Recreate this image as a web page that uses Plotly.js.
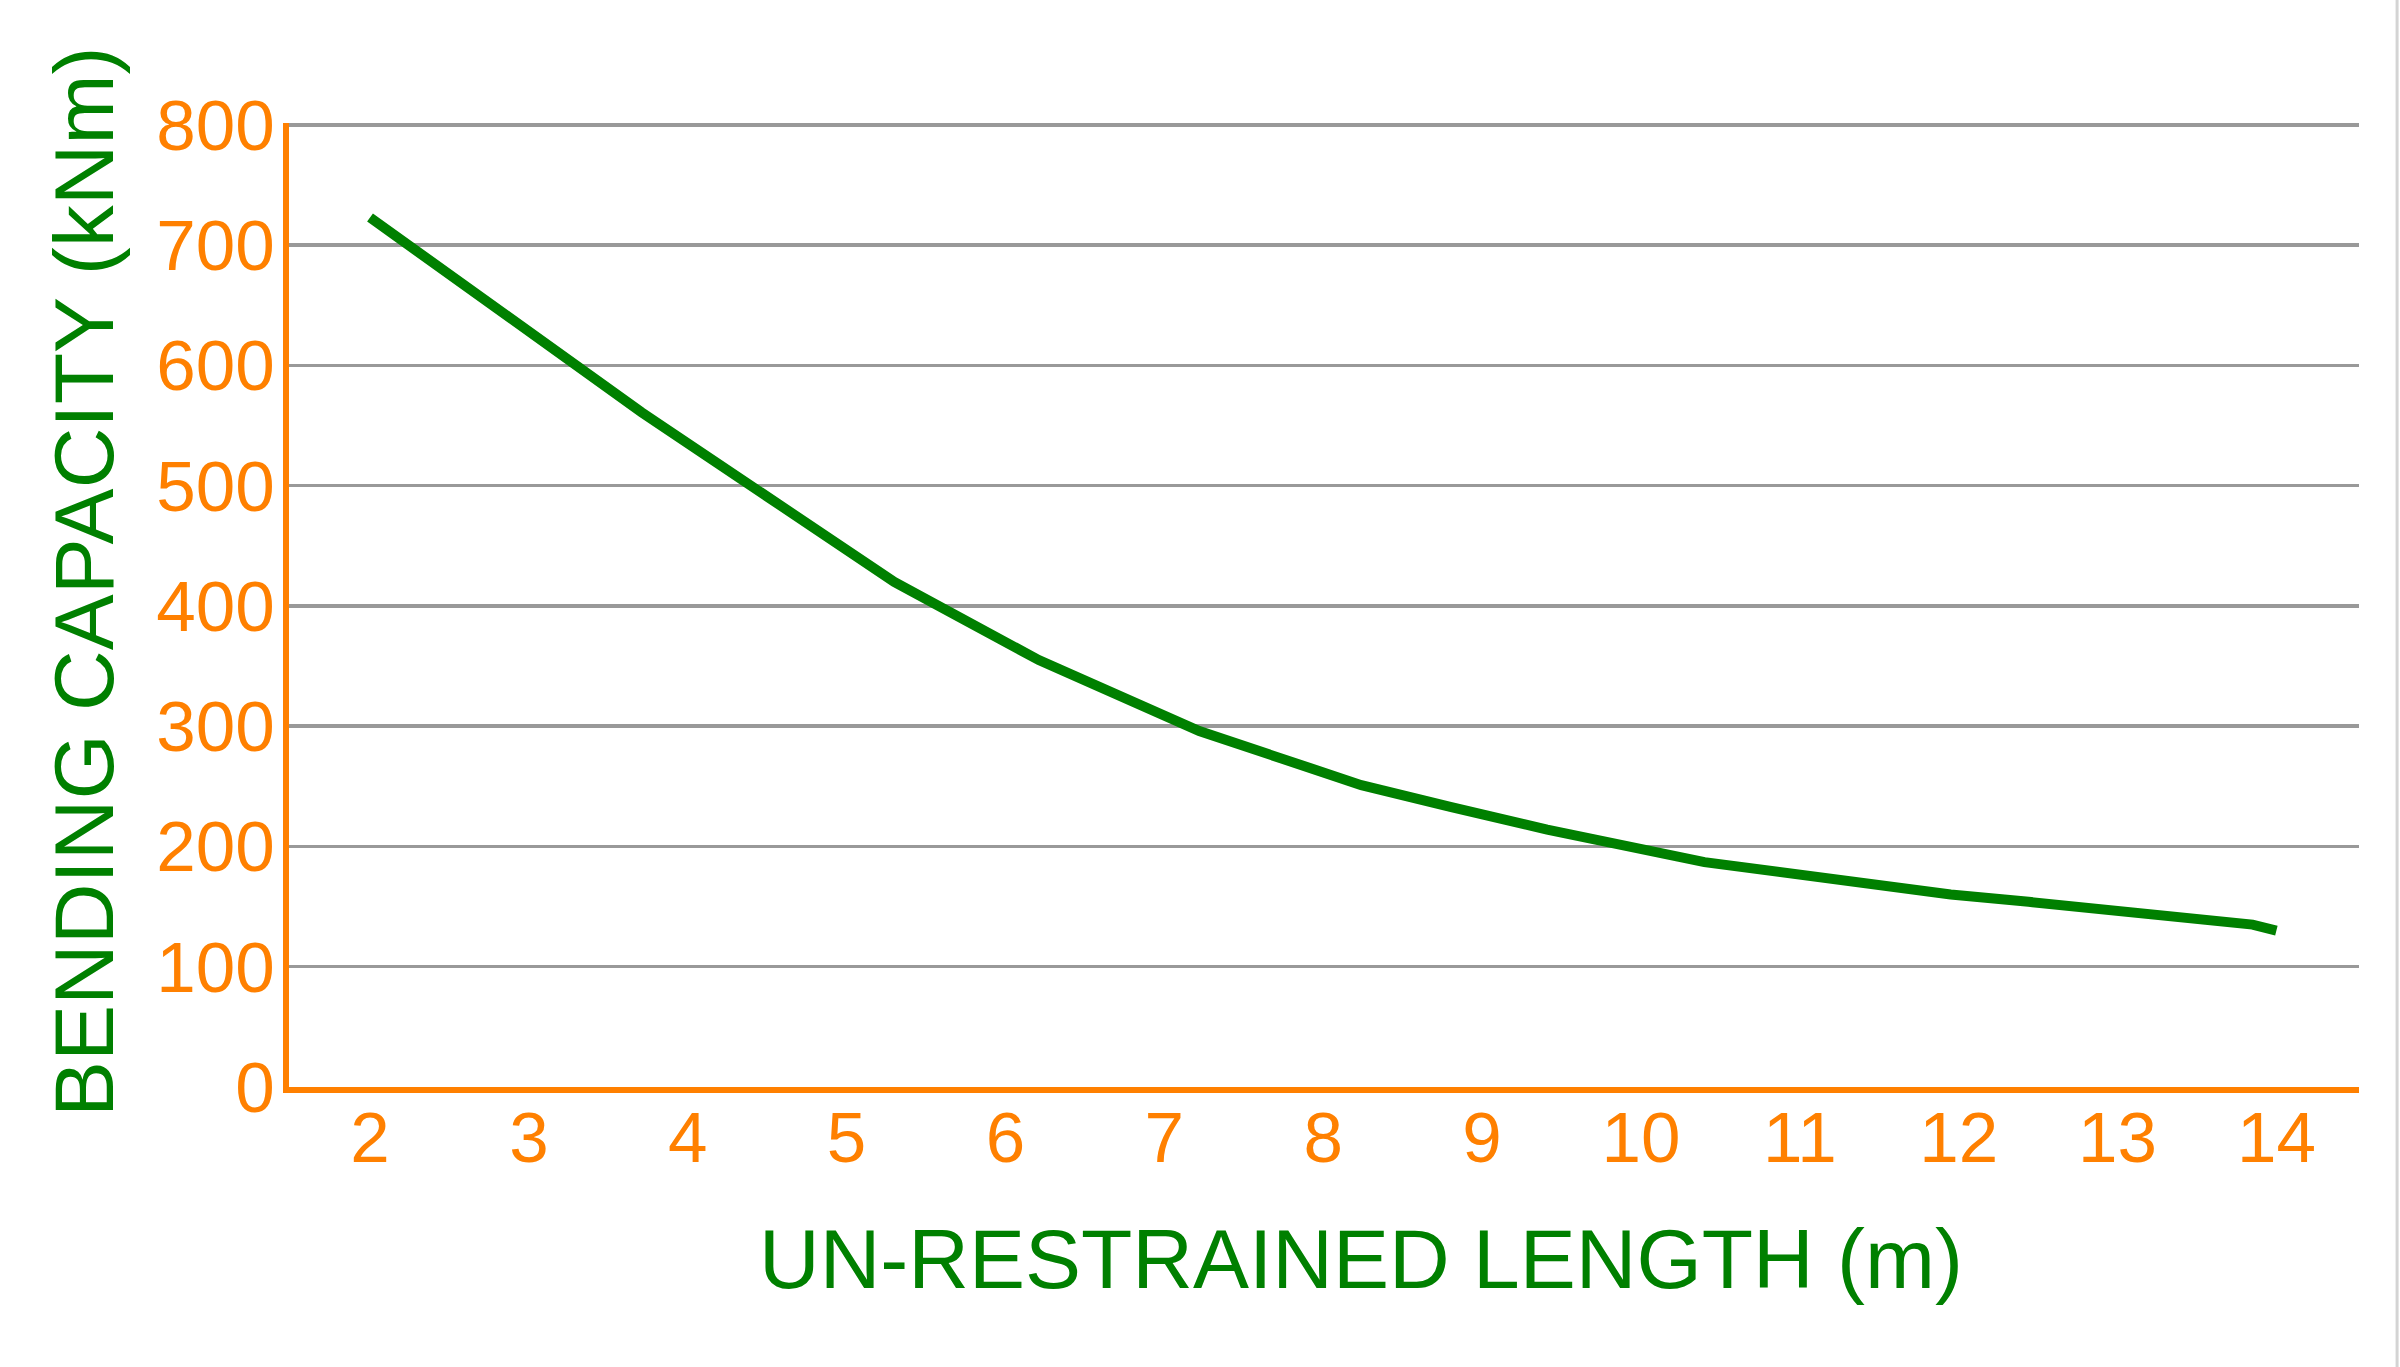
<!DOCTYPE html>
<html>
<head>
<meta charset="utf-8">
<script src="https://cdn.plot.ly/plotly-3.0.1.min.js"></script>
<style>
  html, body { margin: 0; padding: 0; background: #ffffff; }
  #chart { width: 2400px; height: 1367px; }
</style>
</head>
<body>
<div id="chart"></div>
<script>
// Data
const lengthM = [2.0, 3.71, 5.30, 5.85, 6.21, 7.22, 8.24, 8.80, 9.41, 10.40, 11.95, 12.44, 13.45, 13.85, 14.0];
const capacityKNm = [723, 561, 420, 382, 355, 296, 251, 233, 214, 187, 160, 154, 139, 135, 130];
const xTickVals = [2, 3, 4, 5, 6, 7, 8, 9, 10, 11, 12, 13, 14];
const yTickVals = [0, 100, 200, 300, 400, 500, 600, 700, 800];
const xTitle = 'UN-RESTRAINED LENGTH (m)';
const yTitle = 'BENDING CAPACITY (kNm)';

const ORANGE = '#ff8000';
const GREEN = '#008000';
const FONT = 'Liberation Sans, Arial, Helvetica, sans-serif';

const trace = {
  x: lengthM,
  y: capacityKNm,
  type: 'scatter',
  mode: 'lines',
  line: { color: GREEN, width: 10 },
  hoverinfo: 'x+y'
};

const layout = {
  width: 2400,
  height: 1367,
  paper_bgcolor: '#ffffff',
  plot_bgcolor: '#ffffff',
  showlegend: false,
  margin: { l: 289, r: 41, t: 123, b: 280, pad: 0 },
  font: { family: FONT, color: ORANGE },
  xaxis: {
    range: [1.49, 14.52],
    tickmode: 'array',
    tickvals: xTickVals,
    ticks: '',
    showgrid: false,
    zeroline: false,
    showline: true,
    linecolor: ORANGE,
    linewidth: 6,
    tickfont: { family: FONT, size: 71, color: ORANGE },
    ticklabelstandoff: -16,
    fixedrange: true
  },
  yaxis: {
    range: [0, 801.6],
    tickmode: 'array',
    tickvals: yTickVals,
    ticks: '',
    showgrid: true,
    gridcolor: '#999999',
    gridwidth: 3.5,
    zeroline: false,
    showline: true,
    linecolor: ORANGE,
    linewidth: 6,
    tickfont: { family: FONT, size: 71, color: ORANGE },
    ticklabelstandoff: -6,
    fixedrange: true
  },
  annotations: [
    {
      text: yTitle,
      xref: 'paper', yref: 'paper',
      x: -0.099, y: 0.524,
      xanchor: 'center', yanchor: 'middle',
      textangle: -90,
      showarrow: false,
      font: { family: FONT, size: 84, color: GREEN }
    },
    {
      text: xTitle,
      xref: 'paper', yref: 'paper',
      x: 0.518, y: -0.178,
      xanchor: 'center', yanchor: 'middle',
      showarrow: false,
      font: { family: FONT, size: 84, color: GREEN }
    }
  ],
  shapes: [
    {
      type: 'line', xref: 'paper', yref: 'paper',
      x0: 1.0184, x1: 1.0184, y0: -0.3, y1: 1.14,
      line: { color: '#d4d4d4', width: 3 }
    }
  ]
};

Plotly.newPlot('chart', [trace], layout, { displayModeBar: false, staticPlot: true });
</script>
</body>
</html>
